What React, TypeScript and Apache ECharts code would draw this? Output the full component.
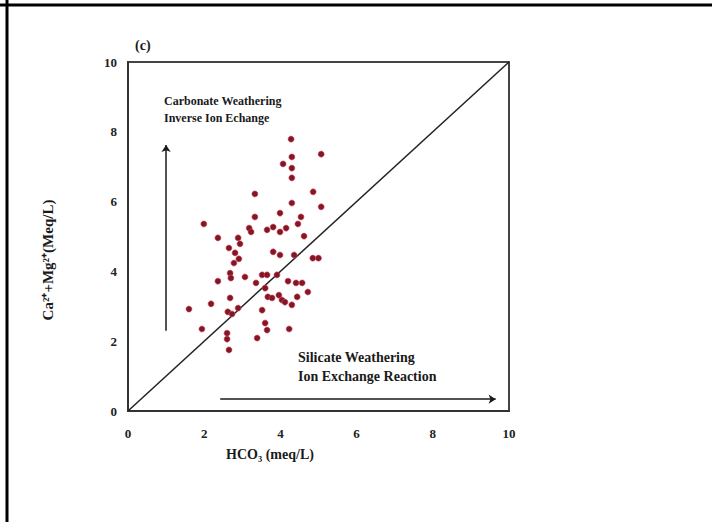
import React, { useEffect, useRef } from "react";
import * as echarts from "echarts";

// HCO3 (meq/L) values of the samples
const hco3: number[] = [
  4.28, 5.07, 4.07, 4.30, 4.30, 4.30, 3.33, 4.86, 4.30, 5.07,
  1.99, 3.33, 3.99, 4.54, 4.46, 3.18, 3.23, 3.65, 3.81, 3.99,
  4.15, 4.62, 2.36, 2.89, 2.94, 2.65, 2.81, 2.78, 2.91, 3.81,
  3.99, 4.36, 4.85, 5.00, 2.68, 2.70, 2.36, 3.07, 3.52, 3.65,
  3.91, 3.36, 3.60, 4.20, 4.41, 4.57, 4.72, 3.67, 3.78, 3.96,
  4.04, 4.12, 4.44, 4.30, 2.68, 2.18, 1.60, 2.89, 2.62, 2.73,
  3.52, 3.60, 3.65, 4.23, 1.94, 2.60, 2.60, 3.39, 2.65,
];
// Ca2+ + Mg2+ (meq/L) values of the samples
const caMg: number[] = [
  7.79, 7.36, 7.08, 7.28, 6.96, 6.68, 6.22, 6.28, 5.96, 5.85,
  5.36, 5.56, 5.67, 5.56, 5.36, 5.24, 5.13, 5.19, 5.27, 5.13,
  5.24, 5.01, 4.96, 4.96, 4.79, 4.67, 4.53, 4.24, 4.36, 4.56,
  4.47, 4.47, 4.38, 4.38, 3.95, 3.81, 3.72, 3.84, 3.90, 3.90,
  3.90, 3.67, 3.52, 3.72, 3.67, 3.67, 3.41, 3.27, 3.24, 3.32,
  3.18, 3.12, 3.27, 3.04, 3.24, 3.07, 2.92, 2.95, 2.84, 2.78,
  2.89, 2.52, 2.32, 2.35, 2.35, 2.23, 2.06, 2.09, 1.75,
];
// 1:1 reference line
const oneToOne: number[][] = [[0, 0], [10, 10]];
// arrows
const carbonateArrow: number[][] = [[1.0, 2.3], [1.0, 7.62]];
const silicateArrow: number[][] = [[2.42, 0.34], [9.65, 0.34]];
// axis ticks
const xTicks = [0, 2, 4, 6, 8, 10];
const yTicks = [0, 2, 4, 6, 8, 10];
// texts
const panelLabel = "(c)";
const xTitle = "HCO\u2083 (meq/L)";
const yTitle = "Ca\u00B2\u207A+Mg\u00B2\u207A(Meq/L)";
const carbonateText = ["Carbonate Weathering", "Inverse Ion Echange"];
const silicateText = ["Silicate Weathering", "Ion Exchange Reaction"];

const FONT = "'Liberation Serif', 'Times New Roman', serif";

export default function App() {
  const ref = useRef<HTMLDivElement>(null);
  useEffect(() => {
    if (!ref.current) return;
    const chart = echarts.init(ref.current, undefined, { renderer: "svg" });
    const points = hco3.map((x, i) => [x, caMg[i]]);
    const textStyle = (x: number, y: number, text: string, size: number, extra: any = {}) => ({
      type: "text",
      x,
      y,
      style: {
        text,
        font: `bold ${size}px ${FONT}`,
        fill: "#1a1a1a",
        textAlign: "left",
        textVerticalAlign: "middle",
        ...extra,
      },
      z: 10,
    });
    chart.setOption({
      animation: false,
      backgroundColor: "#ffffff",
      grid: {
        left: 128,
        right: 203,
        top: 62,
        bottom: 111,
        show: true,
        borderColor: "#444",
        borderWidth: 2,
        backgroundColor: "transparent",
      },
      xAxis: {
        type: "value",
        min: xTicks[0],
        max: xTicks[xTicks.length - 1],
        interval: 2,
        axisLine: { show: true, lineStyle: { color: "#333", width: 2 } },
        axisTick: { show: false },
        splitLine: { show: false },
        axisLabel: {
          margin: 16,
          fontFamily: FONT,
          fontWeight: "bold",
          fontSize: 13,
          color: "#222",
        },
      },
      yAxis: {
        type: "value",
        min: yTicks[0],
        max: yTicks[yTicks.length - 1],
        interval: 2,
        axisLine: { show: true, lineStyle: { color: "#333", width: 2 } },
        axisTick: { show: false },
        splitLine: { show: false },
        axisLabel: {
          margin: 11,
          fontFamily: FONT,
          fontWeight: "bold",
          fontSize: 13,
          color: "#222",
        },
      },
      series: [
        {
          type: "line",
          data: oneToOne,
          symbol: "none",
          lineStyle: { color: "#222", width: 1.5 },
          z: 2,
        },
        {
          type: "lines",
          coordinateSystem: "cartesian2d",
          data: [{ coords: carbonateArrow }, { coords: silicateArrow }],
          symbol: ["none", "arrow"],
          symbolSize: 7,
          lineStyle: { color: "#1a1a1a", width: 1.5, opacity: 1 },
          z: 3,
        },
        {
          type: "scatter",
          data: points,
          symbol: "circle",
          symbolSize: 6,
          itemStyle: {
            color: "#821726",
            borderColor: "rgba(210,70,90,0.6)",
            borderWidth: 1,
            opacity: 1,
          },
          z: 5,
        },
      ],
      graphic: [
        { type: "line", shape: { x1: 0, y1: 5, x2: 712, y2: 5 }, style: { stroke: "#000", lineWidth: 3 } },
        { type: "line", shape: { x1: 7, y1: 0, x2: 7, y2: 522 }, style: { stroke: "#000", lineWidth: 3 } },
        textStyle(135, 45, panelLabel, 14),
        textStyle(164, 101, carbonateText[0], 12),
        textStyle(164, 118, carbonateText[1], 12),
        textStyle(298, 357, silicateText[0], 14),
        textStyle(298, 376, silicateText[1], 14),
        textStyle(270, 454, xTitle, 14, { textAlign: "center" }),
        {
          type: "text",
          x: 48,
          y: 260,
          rotation: Math.PI / 2,
          style: {
            text: yTitle,
            font: `bold 15px ${FONT}`,
            fill: "#1a1a1a",
            textAlign: "center",
            textVerticalAlign: "middle",
          },
          z: 10,
        },
      ],
    });
    return () => chart.dispose();
  }, []);
  return (
    <div
      ref={ref}
      style={{ position: "fixed", left: 0, top: 0, width: 712, height: 522 }}
    />
  );
}
